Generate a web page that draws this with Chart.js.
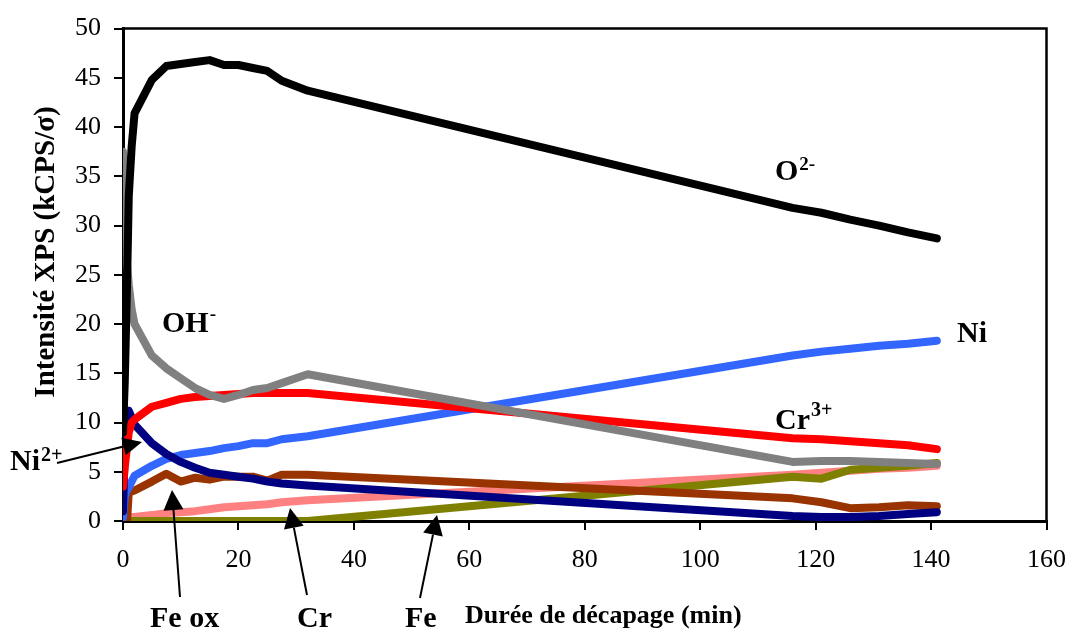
<!DOCTYPE html>
<html>
<head>
<meta charset="utf-8">
<script src="https://cdn.jsdelivr.net/npm/chart.js@4/dist/chart.umd.min.js"></script>
<style>
  html, body { margin: 0; padding: 0; background: #fff; }
  #wrap { width: 1081px; height: 634px; }
</style>
</head>
<body>
<div id="wrap"><canvas id="c" width="1081" height="634"></canvas></div>
<script>
// sputtering time (min)
const times = [0, 0.3, 0.7, 1, 1.5, 2, 5, 7.5, 10, 12.5, 15, 17.5, 20, 22.5, 25, 27.5, 32, 116, 121, 126, 131, 136, 141];

// XPS intensities (kCPS/sigma)
const o2 = [9, 14, 24, 33, 38, 41.4, 44.8, 46.2, 46.4, 46.6, 46.8, 46.3, 46.3, 46.0, 45.7, 44.7, 43.7, 31.8, 31.3, 30.6, 30.0, 29.3, 28.7];
const oh = [37.5, 31, 26, 24, 21.5, 20, 16.8, 15.5, 14.5, 13.5, 12.8, 12.4, 12.8, 13.3, 13.5, 14.0, 14.9, 6.0, 6.1, 6.1, 6.0, 5.9, 5.8];
const cr3 = [3.5, 5.5, 7.5, 9, 10, 10.3, 11.6, 12.0, 12.4, 12.6, 12.7, 12.8, 12.9, 13.0, 13.0, 13.0, 13.0, 8.4, 8.3, 8.1, 7.9, 7.7, 7.3];
const ni2 = [1, 7, 10.5, 11.2, 10.5, 9.8, 7.9, 6.8, 6.0, 5.4, 4.9, 4.7, 4.5, 4.3, 4.0, 3.8, 3.6, 0.5, 0.4, 0.4, 0.5, 0.7, 0.9];
const ni = [0.4, 2.5, 3.2, 3.4, 4.0, 4.6, 5.6, 6.3, 6.7, 6.9, 7.1, 7.4, 7.6, 7.9, 7.9, 8.3, 8.6, 16.8, 17.2, 17.5, 17.8, 18.0, 18.3];
const feOx = [0, 0, 0, 2.9, 3.0, 3.1, 4.0, 4.8, 4.0, 4.4, 4.2, 4.5, 4.5, 4.5, 4.1, 4.7, 4.7, 2.3, 1.9, 1.3, 1.4, 1.6, 1.5];
const fe = [null, null, null, 0, 0, 0, 0, 0, 0, 0, 0, 0, 0, 0, 0, 0, 0, 4.5, 4.3, 5.2, 5.4, 5.6, 5.9];
const cr = [0.1, 0.2, 0.3, 0.3, 0.4, 0.4, 0.6, 0.8, 0.9, 1.0, 1.2, 1.4, 1.5, 1.6, 1.7, 1.9, 2.1, 4.7, 4.9, 5.1, 5.3, 5.4, 5.6];

const xTicks = [0, 20, 40, 60, 80, 100, 120, 140, 160];
const yTicks = [0, 5, 10, 15, 20, 25, 30, 35, 40, 45, 50];

const SERIF = '"Liberation Serif", "Times New Roman", serif';

function pts(vals) {
  return times.map((t, i) => ({ x: t, y: vals[i] }));
}

function line(label, vals, color) {
  return {
    label: label,
    data: pts(vals),
    borderColor: color,
    backgroundColor: color,
    borderWidth: 8,
    borderCapStyle: 'round',
    borderJoinStyle: 'round',
    pointRadius: 0,
    tension: 0,
    spanGaps: false
  };
}

// first dataset is drawn on top
const datasets = [
  line('O2-', o2, '#000000'),
  line('OH-', oh, '#808080'),
  line('Cr3+', cr3, '#ff0000'),
  line('Ni2+', ni2, '#000080'),
  line('Ni', ni, '#3366ff'),
  line('Fe ox', feOx, '#993300'),
  line('Fe', fe, '#808000'),
  line('Cr', cr, '#ff8080')
];

function supText(ctx, base, sup, x, y, size, supSize, rise) {
  ctx.font = 'bold ' + size + 'px ' + SERIF;
  ctx.fillText(base, x, y);
  const w = ctx.measureText(base).width;
  ctx.font = 'bold ' + supSize + 'px ' + SERIF;
  ctx.fillText(sup, x + w + 1, y - rise);
}

function arrow(ctx, x0, y0, x1, y1, len, half) {
  const a = Math.atan2(y1 - y0, x1 - x0);
  const bx = x1 - len * Math.cos(a), by = y1 - len * Math.sin(a);
  ctx.beginPath();
  ctx.moveTo(x0, y0);
  ctx.lineTo(bx, by);
  ctx.stroke();
  ctx.beginPath();
  ctx.moveTo(x1, y1);
  ctx.lineTo(bx + half * Math.sin(a), by - half * Math.cos(a));
  ctx.lineTo(bx - half * Math.sin(a), by + half * Math.cos(a));
  ctx.closePath();
  ctx.fill();
}

const decor = {
  id: 'decor',
  afterDraw(chart) {
    const ctx = chart.ctx;
    const a = chart.chartArea;
    ctx.save();
    // frame top / right
    ctx.strokeStyle = '#000';
    ctx.lineWidth = 2.5;
    ctx.beginPath();
    ctx.moveTo(a.left, a.top);
    ctx.lineTo(a.right, a.top);
    ctx.lineTo(a.right, a.bottom);
    ctx.stroke();

    ctx.fillStyle = '#000';
    ctx.textBaseline = 'alphabetic';
    ctx.textAlign = 'left';
    // series labels
    supText(ctx, 'O', '2-', 775, 180, 30, 19, 10);
    supText(ctx, 'OH', '-', 162, 332, 30, 19, 12);
    ctx.font = 'bold 30px ' + SERIF;
    ctx.fillText('Ni', 957, 342);
    supText(ctx, 'Cr', '3+', 775, 429, 30, 20, 13);
    supText(ctx, 'Ni', '2+', 10, 470, 30, 20, 9);
    ctx.font = 'bold 30px ' + SERIF;
    ctx.fillText('Fe ox', 150, 627);
    ctx.fillText('Cr', 297, 627);
    ctx.fillText('Fe', 405, 627);

    // axis titles
    ctx.font = 'bold 26px ' + SERIF;
    ctx.fillText('Durée de décapage (min)', 465, 623);
    ctx.save();
    ctx.translate(54, 252);
    ctx.rotate(-Math.PI / 2);
    ctx.textAlign = 'center';
    ctx.font = 'bold 29px ' + SERIF;
    ctx.fillText('Intensité XPS (kCPS/σ)', 0, 0);
    ctx.restore();

    // arrows
    ctx.lineWidth = 2;
    arrow(ctx, 57, 463, 142, 442, 19, 9);
    arrow(ctx, 180, 597, 172, 490, 20, 10);
    arrow(ctx, 307, 595, 290, 508, 20, 10);
    arrow(ctx, 420, 598, 437, 515, 20, 10);
    ctx.restore();
  }
};

new Chart(document.getElementById('c').getContext('2d'), {
  type: 'line',
  data: { datasets: datasets },
  options: {
    responsive: false,
    animation: false,
    devicePixelRatio: 1,
    layout: { padding: { top: 19, right: 24, left: 0, bottom: 0 } },
    plugins: {
      legend: { display: false },
      tooltip: { enabled: false }
    },
    scales: {
      x: {
        type: 'linear',
        min: 0,
        max: 160,
        afterBuildTicks: s => { s.ticks = xTicks.map(v => ({ value: v })); },
        afterFit: s => { s.height = 113; },
        ticks: { color: '#000', font: { family: SERIF, size: 26 }, padding: 15, maxRotation: 0 },
        grid: { drawOnChartArea: false, color: '#000', lineWidth: 2, tickLength: 9 },
        border: { color: '#000', width: 3 }
      },
      y: {
        min: 0,
        max: 50,
        afterBuildTicks: s => { s.ticks = yTicks.map(v => ({ value: v })); },
        afterFit: s => { s.width = 123; },
        ticks: { color: '#000', font: { family: SERIF, size: 26 }, padding: 13 },
        grid: { drawOnChartArea: false, color: '#000', lineWidth: 2, tickLength: 9 },
        border: { color: '#000', width: 3 }
      }
    }
  },
  plugins: [decor]
});
</script>
</body>
</html>
